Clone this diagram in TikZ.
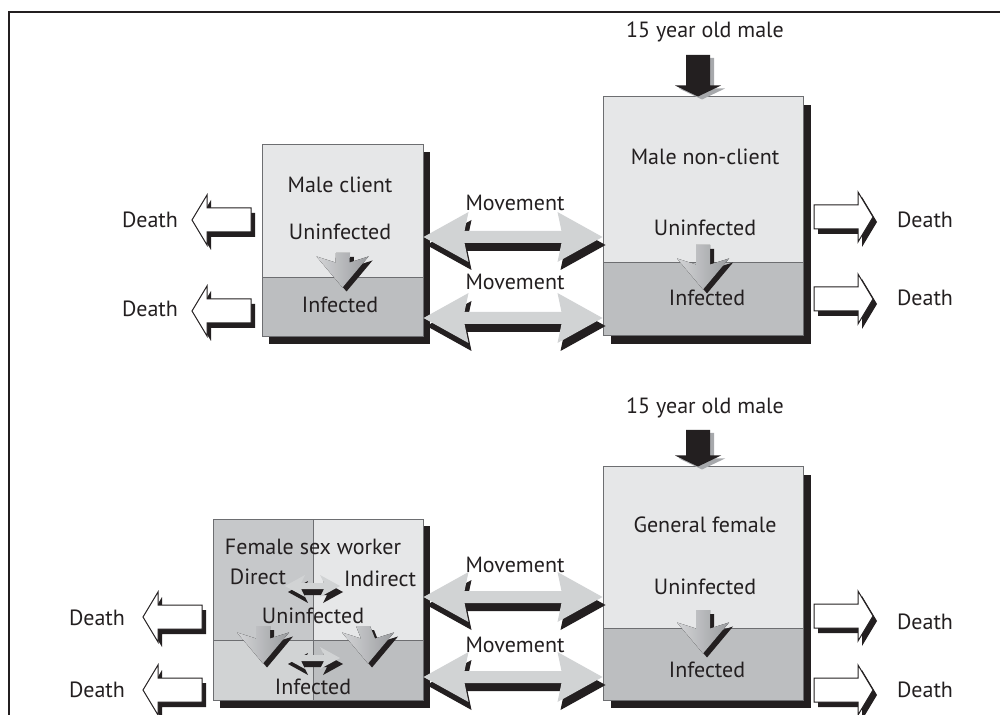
\documentclass[tikz,border=0pt]{standalone}
\usepackage{fontspec}
\setmainfont{PT Sans}
\usetikzlibrary{calc,fit}

\definecolor{ink}{HTML}{231F20}
\definecolor{paleg}{HTML}{E6E7E8}
\definecolor{darkg}{HTML}{BCBEC0}
\definecolor{midg}{HTML}{D1D3D4}
\definecolor{fswg}{HTML}{C6C8CA}
\definecolor{edgeg}{HTML}{6D6E71}
\definecolor{flowl}{HTML}{D3D4D6}
\definecolor{flowd}{HTML}{9A9C9F}
\definecolor{inshadow}{HTML}{A7A9AC}

% block arrows, all sizes in px of the picture
\newcommand{\deathpath}{(0,-12) -- (44,-12) -- (44,-25) -- (59,0) -- (44,25) -- (44,12) -- (0,12) -- cycle}
\newcommand{\deathflow}[2]{%
	\fill[dropfill,shift={($(#1)+(4,5)$)},xscale=#2] \deathpath;
	\filldraw[deathbox,shift={(#1)},xscale=#2] \deathpath;}

\newcommand{\movepath}[5]{(#1) -- ($(#1)+(#3,-#4)$) -- ($(#1)+(#3-4,-#5)$) -- ($(#2)+(-#3+4,-#5)$) -- ($(#2)+(-#3,-#4)$) -- (#2) -- ($(#2)+(-#3,#4)$) -- ($(#2)+(-#3+4,#5)$) -- ($(#1)+(#3-4,#5)$) -- ($(#1)+(#3,#4)$) -- cycle}
\newcommand{\moveflow}[6]{%
	\begin{scope}[transform canvas={shift={#6}}]
		\fill[dropfill] \movepath{#1}{#2}{#3}{#4}{#5};
	\end{scope}
	\fill[movefill] \movepath{#1}{#2}{#3}{#4}{#5};}

\newcommand{\downpath}[2]{($(#1)+(-7,0)$) -- ($(#2)+(-7,-25)$) -- ($(#2)+(-26,-31)$) -- (#2) -- ($(#2)+(26,-31)$) -- ($(#2)+(7,-25)$) -- ($(#1)+(7,0)$) -- cycle}
\newcommand{\downflow}[2]{%
	\begin{scope}[transform canvas={shift={(2pt,-2pt)}}]
		\fill[dropfill] \downpath{#1}{#2};
	\end{scope}
	\fill[left color=flowl,right color=flowd] \downpath{#1}{#2};}

\newcommand{\inpath}[2]{($(#1)+(-12,0)$) -- ($(#2)+(-12,-11)$) -- ($(#2)+(-23,-11)$) -- (#2) -- ($(#2)+(23,-11)$) -- ($(#2)+(12,-11)$) -- ($(#1)+(12,0)$) -- cycle}
\newcommand{\inflow}[2]{%
	\begin{scope}[transform canvas={shift={(2pt,-1.5pt)}}]
		\fill[inshadow] \inpath{#1}{#2};
	\end{scope}
	\fill[ink] \inpath{#1}{#2};}

\begin{document}
\begin{tikzpicture}[x=0.5pt,y=-0.5pt,
	lbl/.style={font=\fontsize{11}{13}\selectfont,text=ink,inner sep=1pt},
	comp/.style={draw=edgeg,line width=0.5pt,inner sep=0pt},
	dropfill/.style={fill=ink},
	deathbox/.style={draw=ink,line width=0.5pt,fill=white},
	movefill/.style={fill=midg}]

	\useasboundingbox (0,0) rectangle (1000,715);
	\draw[ink,line width=1.2pt] (9,715) -- (9,12) -- (1000,12);

	% men
	\fill[dropfill] (269,152) rectangle (430,344);
	\fill[dropfill] (611,105) rectangle (811,344);
	\node[comp,fill=paleg,fit={(262,145) (423,278)}] (mcU) {};
	\node[comp,fill=darkg,fit={(262,278) (423,337)}] (mcI) {};
	\node[comp,fill=paleg,fit={(603,97) (803,263)}] (mnU) {};
	\node[comp,fill=darkg,fit={(603,263) (803,336)}] (mnI) {};

	\coordinate (inA) at (698,55);
	\inflow{inA}{$(mnU.north)+(-5,0)$}
	\downflow{343,253}{$(mcU.south)+(0,9)$}
	\downflow{703,245}{$(mnU.south)+(0,26)$}
	\moveflow{mcU.east |- 0,237}{mnU.west |- 0,237}{45}{25}{6}{(1.5pt,-4pt)}
	\moveflow{mcI.east |- 0,318}{mnI.west |- 0,318}{45}{25}{6}{(1.5pt,-4pt)}
	\deathflow{251,220}{-1}
	\deathflow{251,311}{-1}
	\deathflow{814,217}{1}
	\deathflow{814,299}{1}

	\node[lbl] (inAl) at (705,32) {15 year old male};
	\node[lbl] (mcName) at (340,185) {Male client};
	\node[lbl] (mcUl) at (340,232) {Uninfected};
	\node[lbl] (mcIl) at (340,305) {Infected};
	\node[lbl] (mnName) at (705,157) {Male non-client};
	\node[lbl] (mnUl) at (705,228) {Uninfected};
	\node[lbl] (mnIl) at (707,298) {Infected};
	\node[lbl] (mvA) at (515,203) {Movement};
	\node[lbl] (mvB) at (515,282) {Movement};
	\node[lbl] (dthA) at (150,220) {Death};
	\node[lbl] (dthB) at (150,309) {Death};
	\node[lbl] (dthC) at (925,220) {Death};
	\node[lbl] (dthD) at (925,298) {Death};

	% women
	\fill[dropfill] (220,526) rectangle (430,708);
	\fill[dropfill] (611,475) rectangle (811,708);
	\node[comp,fill=fswg,fit={(213,519) (313,640)}] (dsU) {};
	\node[comp,fill=paleg,fit={(313,519) (423,640)}] (isU) {};
	\node[comp,fill=midg,fit={(213,640) (313,700)}] (dsI) {};
	\node[comp,fill=darkg,fit={(313,640) (423,700)}] (isI) {};
	\node[comp,fill=paleg,fit={(603,467) (803,628)}] (gfU) {};
	\node[comp,fill=darkg,fit={(603,628) (803,700)}] (gfI) {};

	\coordinate (inB) at (698,430);
	\inflow{inB}{$(gfU.north)+(-5,0)$}
	\moveflow{285,586}{340,586}{20}{11}{3}{(1.5pt,-3pt)}
	\moveflow{285,658}{340,658}{20}{11}{3}{(1.5pt,-3pt)}
	\downflow{263,626}{$(dsU.south)+(0,23)$}
	\downflow{363,626}{$(isU.south)+(0,23)$}
	\downflow{703,610}{$(gfU.south)+(0,25)$}
	\moveflow{isU.east |- 0,597}{gfU.west |- 0,597}{45}{25}{6}{(1.5pt,-4pt)}
	\moveflow{isI.east |- 0,677}{gfI.west |- 0,677}{45}{25}{6}{(1.5pt,-4pt)}
	\deathflow{202,617}{-1}
	\deathflow{202,690}{-1}
	\deathflow{814,616}{1}
	\deathflow{814,690}{1}

	\node[lbl] (inBl) at (705,408) {15 year old male};
	\node[lbl] (fsName) at (313,547) {Female sex worker};
	\node[lbl] (dsName) at (258,577) {Direct};
	\node[lbl] (isName) at (380,579) {Indirect};
	\node[lbl] (fsUl) at (313,616) {Uninfected};
	\node[lbl] (fsIl) at (313,687) {Infected};
	\node[lbl] (gfName) at (705,525) {General female};
	\node[lbl] (gfUl) at (705,587) {Uninfected};
	\node[lbl] (gfIl) at (707,670) {Infected};
	\node[lbl] (mvC) at (515,565) {Movement};
	\node[lbl] (mvD) at (515,645) {Movement};
	\node[lbl] (dthE) at (97,618) {Death};
	\node[lbl] (dthF) at (97,690) {Death};
	\node[lbl] (dthG) at (925,622) {Death};
	\node[lbl] (dthH) at (925,690) {Death};

\end{tikzpicture}
\end{document}
